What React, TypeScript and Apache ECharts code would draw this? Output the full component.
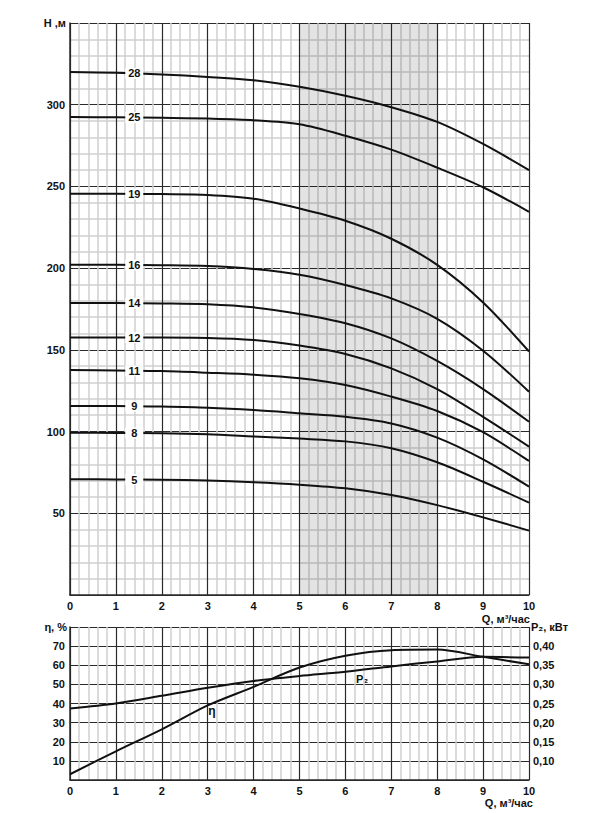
import React, { useEffect, useRef } from "react";
import * as echarts from "echarts";

// Flow rate Q, m³/h
const Q = [0, 1, 2, 3, 4, 5, 6, 7, 8, 9, 10];

// Head H, m for each stage count
const CURVE_NAMES = ["28", "25", "19", "16", "14", "12", "11", "9", "8", "5"];
const H28 = [320, 319.5, 318.5, 317, 315, 311, 305.5, 298.5, 289.5, 276, 260];
const H25 = [292.5, 292.3, 292, 291.5, 290.5, 288, 281, 272.5, 261.5, 249.5, 234.5];
const H19 = [245.5, 245.5, 245.3, 244.8, 242.5, 236.5, 229, 218, 202, 179, 149];
const H16 = [202, 202, 201.8, 201.3, 199.5, 196, 189.7, 181.5, 169, 149.5, 124.4];
const H14 = [178.7, 178.6, 178.4, 177.9, 176, 172, 166.3, 157, 143.2, 126, 106];
const H12 = [157.5, 157.5, 157.5, 157.3, 156, 152.6, 147.5, 138.7, 126, 109, 90.8];
const H11 = [137.7, 137.3, 137, 136, 134.8, 132.6, 128.5, 121.4, 112.6, 99.6, 82];
const H9 = [115.7, 115.7, 115.3, 114.6, 113.2, 111.2, 109.1, 105, 96.3, 83, 66.3];
const H8 = [99.3, 99.2, 99, 98.3, 97, 95.7, 94, 89.8, 81.2, 69.3, 56.5];
const H5 = [70.8, 70.7, 70.5, 70, 69, 67.5, 65.3, 61.2, 55, 47.5, 39.4];
const HEADS = [H28, H25, H19, H16, H14, H12, H11, H9, H8, H5];

// Efficiency η, % and power P2, kW
const ETA = [3, 15, 26.5, 39, 48.7, 58.8, 65, 67.9, 68.2, 64.4, 60.5];
const P2 = [0.237, 0.25, 0.27, 0.291, 0.309, 0.322, 0.333, 0.347, 0.36, 0.372, 0.37];

// Recommended working range
const RANGE = [5, 8];
const LABEL_Q = 1.4;

const FONT = "'Liberation Sans', Arial, sans-serif";
const DARK = "#2a2a2a";
const LIGHT = "#cfcfcf";
const CURVE = "#111";

function interp(xs: number[], ys: number[], x: number) {
  for (let i = 0; i < xs.length - 1; i++) {
    if (x >= xs[i] && x <= xs[i + 1]) {
      const t = (x - xs[i]) / (xs[i + 1] - xs[i]);
      return ys[i] + t * (ys[i + 1] - ys[i]);
    }
  }
  return ys[ys.length - 1];
}

const labelStyle = { color: "#111", fontFamily: FONT, fontWeight: "bold" as const, fontSize: 11 };

function xAxisCfg(gridIndex: number) {
  return {
    type: "value",
    gridIndex,
    min: 0,
    max: 10,
    interval: 1,
    axisLine: { show: true, lineStyle: { color: DARK, width: 1.5 } },
    axisTick: { show: false },
    axisLabel: { ...labelStyle, margin: 5, lineHeight: 12 },
    splitLine: { show: true, lineStyle: { color: DARK, width: 1.2 } },
    minorTick: { show: false, splitNumber: 5 },
    minorSplitLine: { show: true, lineStyle: { color: LIGHT, width: 1.5 } },
  };
}

export default function App() {
  const ref = useRef<HTMLDivElement>(null);
  useEffect(() => {
    document.body.style.margin = "0";
    const chart = echarts.init(ref.current!, null, { renderer: "svg" });

    const headSeries = HEADS.map((h, k) => ({
      type: "line",
      name: CURVE_NAMES[k],
      xAxisIndex: 0,
      yAxisIndex: 0,
      data: Q.map((q, i) => [q, h[i]]),
      smooth: 0.3,
      symbol: "none",
      lineStyle: { color: CURVE, width: 2 },
      z: 3,
      markPoint: {
        symbol: "rect",
        symbolSize: [18, 11],
        itemStyle: { color: "#fff" },
        label: { show: true, position: "inside", formatter: CURVE_NAMES[k], ...labelStyle, fontSize: 11 },
        data: [{ coord: [LABEL_Q, interp(Q, h, LABEL_Q)] }],
        z: 5,
      },
      ...(k === 0
        ? {
            markArea: {
              silent: true,
              itemStyle: { color: "rgba(0,0,0,0.11)" },
              data: [[{ xAxis: RANGE[0] }, { xAxis: RANGE[1] }]],
            },
          }
        : {}),
    }));

    const option = {
      animation: false,
      backgroundColor: "#fff",
      grid: [
        { left: 70, width: 459, top: 23, height: 572 },
        { left: 70, width: 459, top: 627, height: 153 },
      ],
      xAxis: [xAxisCfg(0), xAxisCfg(1)],
      yAxis: [
        {
          type: "value",
          gridIndex: 0,
          min: 0,
          max: 350,
          interval: 50,
          axisLine: { show: true, lineStyle: { color: DARK, width: 1.5 } },
          axisTick: { show: false },
          axisLabel: {
            ...labelStyle,
            margin: 5,
            formatter: (v: number) => (v === 0 || v === 350 ? "" : String(v)),
          },
          splitLine: { show: true, lineStyle: { color: DARK, width: 1.2 } },
          minorTick: { show: false, splitNumber: 5 },
          minorSplitLine: { show: true, lineStyle: { color: LIGHT, width: 1.5 } },
        },
        {
          type: "value",
          gridIndex: 1,
          min: 0,
          max: 80,
          interval: 10,
          axisLine: { show: true, lineStyle: { color: DARK, width: 1.5 } },
          axisTick: { show: false },
          axisLabel: {
            ...labelStyle,
            margin: 5,
            formatter: (v: number) => (v === 0 || v === 80 ? "" : String(v)),
          },
          splitLine: { show: true, lineStyle: { color: DARK, width: 1.2 } },
        },
        {
          type: "value",
          gridIndex: 1,
          position: "right",
          min: 0.05,
          max: 0.45,
          interval: 0.05,
          axisLine: { show: false },
          axisTick: { show: false },
          axisLabel: {
            ...labelStyle,
            margin: 4,
            formatter: (v: number) => (v < 0.07 || v > 0.43 ? "" : v.toFixed(2).replace(".", ",")),
          },
          splitLine: { show: false },
        },
      ],
      series: [
        ...headSeries,
        {
          type: "line",
          name: "η",
          xAxisIndex: 1,
          yAxisIndex: 1,
          data: Q.map((q, i) => [q, ETA[i]]),
          smooth: 0.3,
          symbol: "none",
          lineStyle: { color: CURVE, width: 2 },
        },
        {
          type: "line",
          name: "P₂",
          xAxisIndex: 1,
          yAxisIndex: 2,
          data: Q.map((q, i) => [q, P2[i]]),
          smooth: 0.3,
          symbol: "none",
          lineStyle: { color: CURVE, width: 2 },
        },
      ],
      graphic: [
        {
          type: "text",
          x: 66,
          y: 23,
          style: { text: "H ,м", ...labelStyle, fill: "#111", align: "right", verticalAlign: "middle" },
        },
        {
          type: "text",
          x: 530,
          y: 619,
          style: {
            text: "Q, м³/час",
            ...labelStyle,
            lineHeight: 11,
            fill: "#111",
            align: "right",
            verticalAlign: "middle",
          },
        },
        {
          type: "text",
          x: 67,
          y: 627,
          style: { text: "η, %", ...labelStyle, fill: "#111", align: "right", verticalAlign: "middle" },
        },
        {
          type: "text",
          x: 531,
          y: 627,
          style: { text: "P₂, кВт", ...labelStyle, fill: "#111", align: "left", verticalAlign: "middle" },
        },
        {
          type: "text",
          x: 533,
          y: 803,
          style: {
            text: "Q, м³/час",
            ...labelStyle,
            lineHeight: 11,
            fill: "#111",
            align: "right",
            verticalAlign: "middle",
          },
        },
        {
          type: "text",
          x: 212,
          y: 711,
          style: { text: "η", ...labelStyle, fontSize: 12, fill: "#111", align: "center", verticalAlign: "middle" },
        },
        {
          type: "text",
          x: 362,
          y: 679,
          style: { text: "P₂", ...labelStyle, fill: "#111", align: "center", verticalAlign: "middle" },
        },
      ],
    };
    chart.setOption(option as any);
    return () => chart.dispose();
  }, []);
  return <div ref={ref} style={{ width: 600, height: 813 }} />;
}
